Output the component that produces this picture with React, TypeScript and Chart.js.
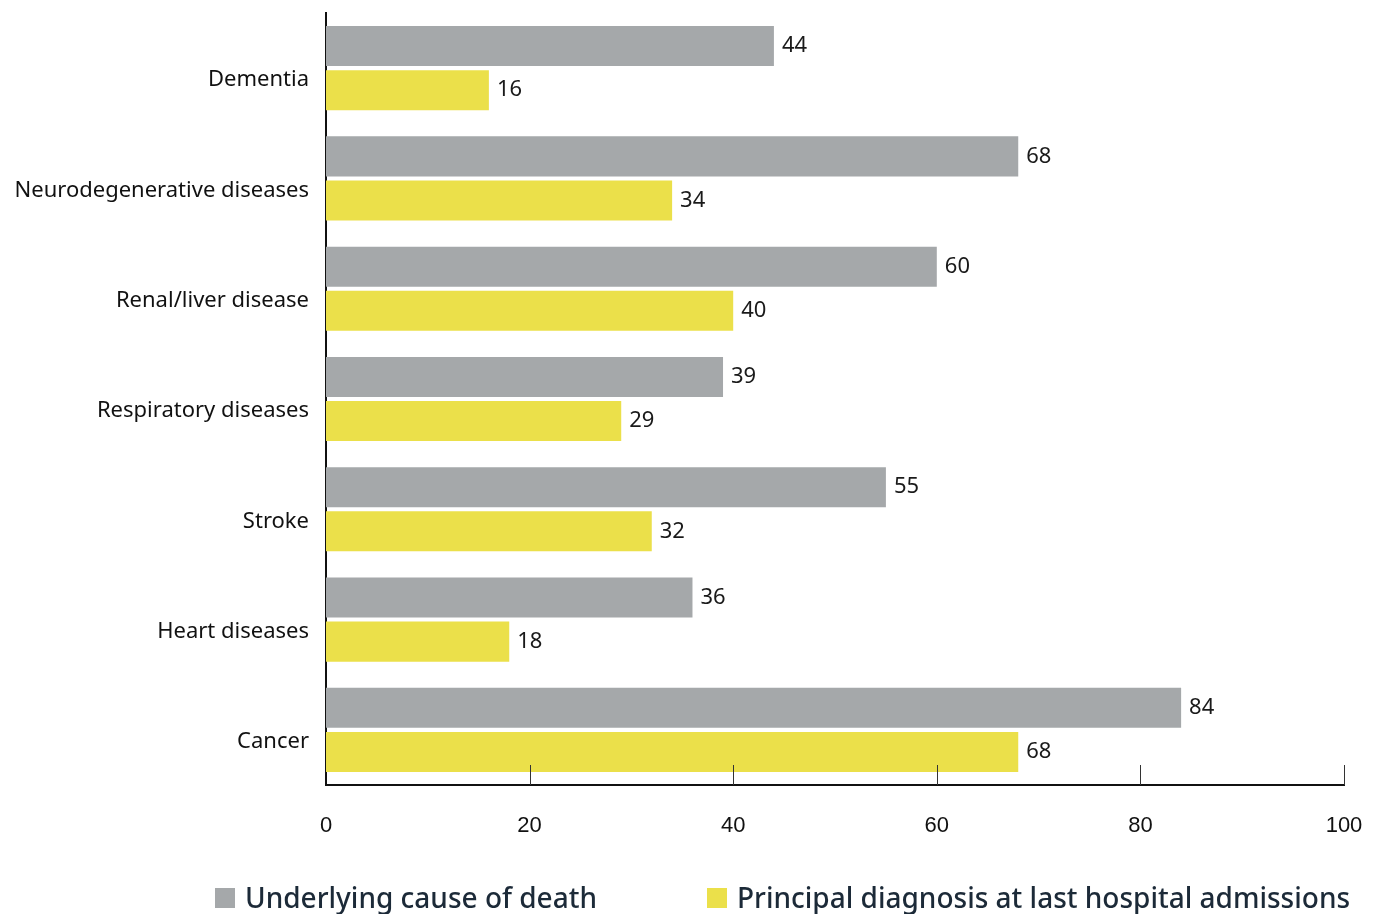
import React, { useEffect, useRef } from "react";
import { Chart, registerables } from "chart.js";

Chart.register(...registerables);

const categories = [
  "Dementia",
  "Neurodegenerative diseases",
  "Renal/liver disease",
  "Respiratory diseases",
  "Stroke",
  "Heart diseases",
  "Cancer",
];
const underlyingCause = [44, 68, 60, 39, 55, 36, 84];
const principalDiagnosis = [16, 34, 40, 29, 32, 18, 68];
const xTicks = [0, 20, 40, 60, 80, 100];

const seriesLabels = ["Underlying cause of death", "Principal diagnosis at last hospital admissions"];
const GREY = "#a5a8aa";
const YELLOW = "#ebe04a";
const FONT = "'Noto Sans', 'Open Sans', sans-serif";
const TICK_FONT = "'Liberation Sans', Arial, sans-serif";

// Value labels at the end of every bar
const valueLabels = {
  id: "valueLabels",
  afterDatasetsDraw(chart: any) {
    const ctx = chart.ctx;
    ctx.save();
    ctx.font = `22px ${FONT}`;
    ctx.fillStyle = "#1a1a1a";
    ctx.textAlign = "left";
    ctx.textBaseline = "middle";
    chart.data.datasets.forEach((ds: any, di: number) => {
      const meta = chart.getDatasetMeta(di);
      meta.data.forEach((bar: any, i: number) => {
        ctx.fillText(String(ds.data[i]), bar.x + 8, bar.y);
      });
    });
    ctx.restore();
  },
};

// Short tick marks rising from the x axis into the plot
const innerTicks = {
  id: "innerTicks",
  afterDraw(chart: any) {
    const ctx = chart.ctx;
    const x = chart.scales.x;
    const bottom = chart.chartArea.bottom;
    ctx.save();
    ctx.strokeStyle = "#333";
    ctx.lineWidth = 1;
    xTicks.slice(1).forEach((v) => {
      const px = Math.round(x.getPixelForValue(v)) + 0.5;
      ctx.beginPath();
      ctx.moveTo(px, bottom - 20);
      ctx.lineTo(px, bottom);
      ctx.stroke();
    });
    ctx.restore();
  },
};

// Legend row below the axis
const bottomLegend = {
  id: "bottomLegend",
  afterDraw(chart: any) {
    const ctx = chart.ctx;
    const starts = [215, 707];
    const cy = 898;
    ctx.save();
    ctx.font = `500 28px ${FONT}`;
    ctx.textBaseline = "middle";
    ctx.textAlign = "left";
    chart.data.datasets.forEach((ds: any, i: number) => {
      const x0 = starts[i];
      ctx.fillStyle = ds.backgroundColor;
      ctx.fillRect(x0, cy - 10, 20, 20);
      ctx.fillStyle = "#1c2a38";
      ctx.fillText(ds.label, x0 + 30, cy + 2);
    });
    ctx.restore();
  },
};

export default function App() {
  const ref = useRef<HTMLCanvasElement | null>(null);

  useEffect(() => {
    if (!ref.current) return;
    const chart = new Chart(ref.current, {
      type: "bar",
      data: {
        labels: categories,
        datasets: [
          { label: seriesLabels[0], data: underlyingCause, backgroundColor: GREY },
          { label: seriesLabels[1], data: principalDiagnosis, backgroundColor: YELLOW },
        ],
      },
      options: {
        indexAxis: "y",
        animation: false,
        responsive: true,
        maintainAspectRatio: false,
        layout: { padding: { top: 13, right: 34, left: 0, bottom: 0 } },
        datasets: { bar: { categoryPercentage: 0.8, barPercentage: 0.907 } },
        plugins: { legend: { display: false }, tooltip: { enabled: false } },
        scales: {
          x: {
            min: 0,
            max: 100,
            afterBuildTicks(scale: any) {
              scale.ticks = xTicks.map((v) => ({ value: v }));
            },
            afterFit(scale: any) {
              scale.height = 129;
              scale.paddingLeft = 0;
              scale.paddingRight = 0;
            },
            grid: { display: false, drawTicks: false },
            border: { display: true, color: "#111", width: 2 },
            ticks: { padding: 28, color: "#111", font: { family: TICK_FONT, size: 22 } },
          },
          y: {
            afterFit(scale: any) {
              scale.width = 326;
              scale.paddingTop = 0;
              scale.paddingBottom = 0;
            },
            grid: { display: false, drawTicks: false },
            border: { display: true, color: "#111", width: 2 },
            ticks: { padding: 17, labelOffset: 12, color: "#111", font: { family: FONT, size: 22 } },
          },
        },
      },
      plugins: [valueLabels, innerTicks, bottomLegend],
    });
    return () => chart.destroy();
  }, []);

  return (
    <div style={{ position: "fixed", left: 0, top: 0, width: 1378, height: 914, background: "#fff" }}>
      <canvas ref={ref} />
    </div>
  );
}
